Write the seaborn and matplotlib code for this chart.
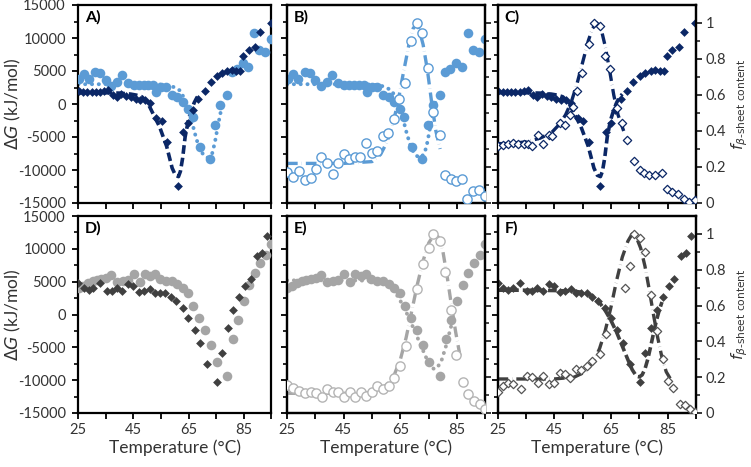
import matplotlib
matplotlib.use("Agg")
import matplotlib.pyplot as plt
import seaborn as sns
from matplotlib.ticker import FixedLocator

# ---------------- data ----------------
# navy diamonds: Delta G (panels A and C)
temp_navy = [25.3, 26.8, 28.3, 29.8, 31.3, 32.8, 34.3, 35.8, 37.5, 39.0, 40.6, 42.3, 44.0, 45.8, 47.5, 49.2, 51.0,
             53.3, 55.3, 57.1, 61.1, 63.1, 64.9, 66.6, 68.4, 70.8, 72.9, 75.3, 77.1, 79.0, 80.7, 82.2, 83.6, 84.8,
             86.7, 88.9, 90.8, 94.8]
dg_navy = [1900, 1800, 1750, 1800, 1850, 1750, 1900, 2100, 1300, 1000, 1450, 1200, 1000, 800, 650, 600, 100,
           -2100, -2500, -5700, -12400, -4300, -2900, -900, 700, 1900, 3400, 4250, 4750, 5050, 5100, 5050, 5050, 7200,
           8200, 8700, 10950, 12200]

# light-blue circles: Delta G (panels A and B)
temp_lb = [25.3, 27.0, 29.0, 31.2, 33.0, 35.0, 37.0, 39.0, 41.0, 43.1, 45.2, 47.0, 48.7, 50.4, 52.0, 53.3, 55.0,
           56.8, 59.0, 60.8, 62.8, 64.7, 66.4, 69.1, 72.7, 74.7, 76.5, 78.9, 80.8, 82.5, 84.6, 86.6, 88.7, 90.5,
           92.7, 94.8]
dg_lb = [3800, 4500, 3800, 4900, 4650, 3650, 2750, 3400, 4400, 3130, 2900, 2950, 2900, 2850, 2900, 1850, 2550,
         2550, 1350, 1100, 350, -800, -1900, -6450, -8350, -3200, -150, 1300, 4900, 5250, 6150, 5650, 10700, 8200,
         7900, 9800]

# dark-grey diamonds: Delta G (panels D and F)
temp_dk = [25.0, 26.9, 28.7, 30.5, 33.0, 35.3, 37.3, 39.1, 41.0, 43.1, 44.8, 47.0, 48.8, 50.8, 52.7, 54.6, 56.5,
           58.5, 60.3, 63.0, 64.9, 67.2, 69.1, 71.6, 75.1, 77.1, 79.3, 81.2, 83.4, 85.5, 87.4, 89.6, 91.4, 93.3]
dg_dk = [4870, 4100, 3800, 4000, 4800, 3550, 3650, 4000, 3650, 4600, 4300, 3450, 3600, 3900, 3300, 3300, 3300,
         2600, 2100, 960, -560, -2350, -4400, -7550, -10300, -5900, -2000, 700, 2700, 4350, 5400, 8900, 9300, 11900]

# light-grey circles: Delta G (panels D and E)
temp_lg = [25.1, 26.6, 28.4, 30.2, 31.7, 33.3, 35.2, 37.0, 39.2, 41.1, 43.1, 45.2, 47.2, 49.0, 51.0, 52.9, 54.6,
           56.6, 58.8, 60.8, 62.8, 64.7, 66.7, 68.7, 70.8, 72.9, 75.1, 79.0, 81.0, 82.9, 84.9, 86.9, 89.0, 91.0,
           92.9, 94.9]
dg_lg = [4000, 4400, 4750, 5100, 5250, 5350, 5500, 6050, 4900, 5150, 5300, 6150, 5000, 6100, 5800, 6200, 5400,
         5050, 5150, 4600, 4100, 3200, 1300, -550, -2350, -4650, -7200, -9350, -3750, -800, 2100, 4500, 6300, 7800,
         9100, 10800]

# f beta-sheet content (open markers)
temp_fb = [25.1, 27.2, 29.3, 31.3, 33.3, 35.2, 37.0, 39.2, 41.3, 43.1, 45.0, 46.8, 48.9, 50.6, 52.9, 54.9, 56.9,
           58.8, 60.7, 62.7, 64.6, 66.6, 68.7, 70.7, 72.7, 74.6, 76.6, 79.0, 80.7, 82.7, 84.6, 86.6, 88.6, 90.5,
           92.8, 94.8]
f_b = [0.175, 0.145, 0.18, 0.13, 0.14, 0.19, 0.255, 0.22, 0.16, 0.225, 0.27, 0.245, 0.255, 0.255, 0.335, 0.28, 0.29,
       0.37, 0.39, 0.465, 0.58, 0.665, 0.90, 1.0, 0.945, 0.75, 0.505, 0.38, 0.155, 0.135, 0.12, 0.135, 0.025, 0.065,
       0.07, 0.04]

temp_fc = [25.3, 27.1, 28.8, 30.6, 32.4, 34.2, 35.9, 37.1, 39.4, 41.2, 43.0, 44.2, 47.1, 48.9, 50.7, 51.8, 53.2,
           54.8, 57.1, 58.9, 61.0, 63.0, 64.8, 67.1, 68.9, 70.6, 73.0, 75.1, 76.7, 78.6, 80.6, 82.9, 84.7, 86.5,
           88.8, 90.8, 92.7, 94.7]
f_c = [0.315, 0.32, 0.33, 0.335, 0.325, 0.325, 0.325, 0.315, 0.38, 0.33, 0.375, 0.37, 0.445, 0.435, 0.49, 0.535,
       0.62, 0.72, 0.885, 1.0, 0.985, 0.815, 0.745, 0.525, 0.445, 0.35, 0.235, 0.185, 0.165, 0.155, 0.155, 0.165,
       0.08, 0.06, 0.05, 0.025, 0.005, 0.015]

temp_fe = [25.1, 27.2, 29.3, 31.3, 33.3, 35.2, 37.2, 39.2, 41.1, 43.1, 45.2, 47.2, 49.0, 51.0, 52.9, 54.9, 56.9,
           58.8, 60.8, 62.8, 64.9, 67.0, 70.8, 72.9, 74.9, 76.6, 78.8, 80.8, 82.8, 84.6, 87.0, 89.0, 91.0, 92.9, 94.9]
f_e = [0.155, 0.14, 0.125, 0.11, 0.115, 0.11, 0.09, 0.135, 0.115, 0.12, 0.09, 0.115, 0.09, 0.115, 0.095, 0.12,
       0.15, 0.135, 0.15, 0.195, 0.26, 0.375, 0.69, 0.83, 0.92, 1.0, 0.96, 0.785, 0.575, 0.325, 0.175, 0.105, 0.065,
       0.05, 0.02]

temp_ff = [25.3, 27.1, 28.8, 30.6, 33.2, 35.3, 37.2, 39.2, 41.0, 43.1, 44.8, 46.9, 48.7, 50.7, 52.8, 54.6, 56.6,
           58.4, 61.0, 63.4, 69.9, 71.6, 73.2, 75.1, 77.1, 79.2, 81.2, 83.2, 85.0, 86.9, 89.2, 91.0, 92.8, 94.8]
f_f = [0.12, 0.15, 0.17, 0.16, 0.135, 0.205, 0.20, 0.17, 0.205, 0.16, 0.17, 0.225, 0.215, 0.195, 0.245, 0.24, 0.26,
       0.29, 0.33, 0.44, 0.70, 0.82, 1.0, 0.975, 0.90, 0.66, 0.46, 0.30, 0.18, 0.14, 0.05, 0.045, 0.025, 0.005]

# fitted curves
fit_navy_t = [25, 30, 35, 40, 44, 46, 48, 50, 52, 54.4, 57, 59, 60.2, 61.3, 62, 62.8, 63.7, 64.9, 66, 67, 68, 69]
fit_navy_dg = [1700, 1700, 1700, 1650, 1500, 1350, 1100, 300, -1400, -3400, -6400, -9700, -10800, -11000, -10200,
               -8200, -5000, -2400, -900, 200, 1000, 1500]
fit_lb_t = [25, 35, 45, 55, 58, 60, 62, 64, 65.4, 67.2, 68.8, 70.5, 72, 73.5, 74.5, 75.5, 76.5, 77.5]
fit_lb_dg = [3000, 3000, 3000, 2950, 2800, 2500, 2000, 300, -1400, -4400, -6700, -7800, -8150, -7500, -5800,
             -3500, -1400, 500]
fit_b_t = [25, 35, 45, 55, 58, 60, 62, 64, 66, 68, 69.5, 70.5, 71.5, 73, 74.5, 76, 77.5, 79]
fit_b_f = [0.22, 0.22, 0.22, 0.23, 0.27, 0.33, 0.42, 0.55, 0.72, 0.88, 0.97, 0.99, 0.97, 0.88, 0.74, 0.56, 0.40, 0.30]
fit_c_t = [25, 30, 35, 40, 44, 47, 49, 51, 53, 55, 57, 58.5, 60, 61.5, 63, 64.5, 66, 67.5, 69.5]
fit_c_f = [0.33, 0.33, 0.34, 0.36, 0.39, 0.44, 0.49, 0.56, 0.66, 0.78, 0.90, 0.97, 1.0, 0.97, 0.87, 0.74, 0.60, 0.49,
           0.40]
fit_e_t = [25, 35, 45, 55, 58, 60, 62, 64, 66, 68, 70, 72, 74, 75.5, 76.8, 78, 79.5, 81, 82.5, 84]
fit_e_dg = [5200, 5200, 5200, 5150, 4950, 4600, 3900, 2800, 1300, -500, -2500, -4500, -6500, -7700, -8300, -8100,
            -7000, -4900, -2400, 0]
fit_e_ft = [25, 35, 45, 55, 58, 61, 63, 65, 67, 69, 71, 73, 75, 77, 78.5, 80, 81.5, 83, 84.5, 86]
fit_e_f = [0.11, 0.11, 0.11, 0.115, 0.13, 0.17, 0.22, 0.30, 0.42, 0.57, 0.72, 0.85, 0.95, 1.0, 0.98, 0.90, 0.76, 0.60,
           0.45, 0.32]
fit_f_t = [25, 35, 45, 52, 56, 59, 61, 63, 65, 67, 69, 71, 72.5, 74, 75, 76, 77, 78, 79, 80, 81, 82, 83]
fit_f_dg = [3700, 3700, 3650, 3550, 3300, 2700, 1800, 600, -900, -2700, -4800, -6900, -8400, -9400, -9500, -9200,
            -8300, -6800, -4900, -2900, -1000, 600, 1900]
fit_f_ft = [25, 35, 45, 52, 56, 59, 61, 63, 65, 67, 69, 71, 72.5, 74, 75.5, 77, 78.5, 80, 81.5, 83, 84.5, 86]
fit_f_f = [0.19, 0.19, 0.19, 0.20, 0.23, 0.29, 0.36, 0.46, 0.59, 0.74, 0.87, 0.96, 1.0, 0.98, 0.92, 0.82, 0.69, 0.55,
           0.42, 0.31, 0.23, 0.19]

x_ticks = [25, 35, 45, 55, 65, 75, 85, 95]
x_ticklabels = ["25", "", "45", "", "65", "", "85", ""]
dg_ticks = [-15000, -10000, -5000, 0, 5000, 10000, 15000]
f_ticks = [0, 0.2, 0.4, 0.6, 0.8, 1.0]
f_ticklabels = ["0", "0.2", "0.4", "0.6", "0.8", "1"]
panel_labels = ["A)", "B)", "C)", "D)", "E)", "F)"]

# ---------------- style ----------------
sns.set_style("ticks")
plt.rcParams["font.family"] = ["Lato", "DejaVu Sans"]
plt.rcParams["mathtext.fontset"] = "dejavusans"

NAVY = "#0b2766"
LBLUE = "#5b9bd5"
DGRAY = "#404040"
LGRAY = "#a5a5a5"
LGRAY_OPEN = "#b4b4b4"
TXT = "#333333"

DASHED = (0, (2.4, 1.1))
DOTTED = (0, (0.05, 1.7))
DASHDOT = (0, (3.2, 1.2, 0.05, 1.2))

W, H = 751, 467
cols = [(78.3, 271.5), (287.0, 485.5), (497.5, 696.0)]
rows = [(5.0, 203.0), (216.0, 413.0)]

fig = plt.figure(figsize=(W / 100, H / 100), dpi=100)


def line(ax, x, y, color, ls, lw=2.6, cap="butt"):
    sns.lineplot(x=x, y=y, ax=ax, color=color, linestyle=ls, linewidth=lw, sort=False,
                 estimator=None, dash_capstyle=cap, zorder=2)


def points(ax, x, y, color, marker, s, filled=True, lw=1.0):
    if filled:
        sns.scatterplot(x=x, y=y, ax=ax, color=color, marker=marker, s=s, linewidth=0, zorder=3)
    else:
        sns.scatterplot(x=x, y=y, ax=ax, marker=marker, s=s, facecolor="white", edgecolor=color,
                        linewidth=lw, zorder=3)


def style_spines(a):
    for sp in a.spines.values():
        sp.set_visible(True)
        sp.set_linewidth(1.6)
        sp.set_color("black")


axes = {}
for r, (top, bot) in enumerate(rows):
    for c, (left, right) in enumerate(cols):
        ax = fig.add_axes([left / W, (H - bot) / H, (right - left) / W, (bot - top) / H])
        axes[(r, c)] = ax


def setup_primary(ax, r, c):
    ax.set_xlim(25, 95)
    ax.set_ylim(-15000, 15000)
    ax.xaxis.set_major_locator(FixedLocator(x_ticks))
    ax.set_xticklabels(x_ticklabels if r == 1 else [""] * len(x_ticks))
    ax.yaxis.set_major_locator(FixedLocator(dg_ticks))
    ax.yaxis.set_minor_locator(FixedLocator([-12500, -7500, -2500, 2500, 7500, 12500]))
    ax.set_yticklabels([str(v) for v in dg_ticks] if c == 0 else [""] * len(dg_ticks))
    ax.tick_params(axis="both", which="major", direction="out", length=4, width=1.3,
                   labelsize=10.5, labelcolor=TXT, color="black")
    ax.tick_params(axis="y", which="major", pad=5)
    ax.tick_params(axis="x", which="major", pad=3)
    ax.tick_params(axis="y", which="minor", direction="out", length=3, width=1.2, color="black")
    ax.set_xlabel("")
    ax.set_ylabel("")
    style_spines(ax)


def setup_twin(tw, c):
    tw.set_ylim(0, 1.1)
    tw.yaxis.set_major_locator(FixedLocator(f_ticks))
    tw.yaxis.set_minor_locator(FixedLocator([0.1, 0.3, 0.5, 0.7, 0.9]))
    tw.set_yticklabels(f_ticklabels if c == 2 else [""] * len(f_ticks))
    tw.tick_params(axis="y", which="major", direction="out", length=4, width=1.3, labelsize=10.5,
                   labelcolor=TXT, pad=3)
    tw.tick_params(axis="y", which="minor", direction="out", length=3, width=1.2)
    tw.set_xlabel("")
    tw.set_ylabel("")
    style_spines(tw)


# A
ax = axes[(0, 0)]
line(ax, fit_navy_t, fit_navy_dg, NAVY, DASHED)
line(ax, fit_lb_t, fit_lb_dg, LBLUE, DOTTED, lw=2.8, cap="round")
points(ax, temp_lb, dg_lb, LBLUE, "o", 48)
points(ax, temp_navy, dg_navy, NAVY, "D", 20)

# B
ax = axes[(0, 1)]
line(ax, fit_lb_t, fit_lb_dg, LBLUE, DOTTED, lw=2.8, cap="round")
points(ax, temp_lb, dg_lb, LBLUE, "o", 48)
twB = ax.twinx()
line(twB, fit_b_t, fit_b_f, LBLUE, DASHDOT, lw=2.4)
points(twB, temp_fb, f_b, LBLUE, "o", 44, filled=False)

# C
ax = axes[(0, 2)]
line(ax, fit_navy_t, fit_navy_dg, NAVY, DASHED)
points(ax, temp_navy, dg_navy, NAVY, "D", 20)
twC = ax.twinx()
line(twC, fit_c_t, fit_c_f, NAVY, DASHDOT, lw=2.4)
points(twC, temp_fc, f_c, NAVY, "D", 18, filled=False, lw=0.9)

# D
ax = axes[(1, 0)]
points(ax, temp_lg, dg_lg, LGRAY, "o", 48)
points(ax, temp_dk, dg_dk, DGRAY, "D", 20)

# E
ax = axes[(1, 1)]
line(ax, fit_e_t, fit_e_dg, LGRAY, DOTTED, lw=2.8, cap="round")
points(ax, temp_lg, dg_lg, LGRAY, "o", 48)
twE = ax.twinx()
line(twE, fit_e_ft, fit_e_f, LGRAY, DASHDOT, lw=2.4)
points(twE, temp_fe, f_e, LGRAY_OPEN, "o", 44, filled=False)

# F
ax = axes[(1, 2)]
line(ax, fit_f_t, fit_f_dg, DGRAY, DASHED)
points(ax, temp_dk, dg_dk, DGRAY, "D", 20)
twF = ax.twinx()
line(twF, fit_f_ft, fit_f_f, DGRAY, DASHDOT, lw=2.4)
points(twF, temp_ff, f_f, "#555555", "D", 18, filled=False, lw=0.9)

for (r, c), ax in axes.items():
    setup_primary(ax, r, c)
    ax.text(0.035, 0.975, panel_labels[r * 3 + c], transform=ax.transAxes, fontsize=11.5,
            fontweight="bold", ha="left", va="top", color="black", zorder=10)

for tw, c in [(twB, 1), (twC, 2), (twE, 1), (twF, 2)]:
    setup_twin(tw, c)
    tw.set_xlim(25, 95)

for r in (0, 1):
    ax = axes[(r, 0)]
    ax.set_ylabel(r"$\mathit{\Delta G}$ (kJ/mol)", fontsize=12.5, color=TXT)
    ax.yaxis.set_label_coords(-0.285, 0.5)
for c in (0, 1, 2):
    ax = axes[(1, c)]
    ax.set_xlabel("Temperature (°C)", fontsize=12.5, color=TXT)
    ax.xaxis.set_label_coords(0.5, -0.135)
    ax.xaxis.label.set_va("top")
for tw in (twC, twF):
    tw.set_ylabel(r"$f_{\beta\text{-sheet content}}$", fontsize=11, color=TXT)
    tw.yaxis.set_label_coords(1.168, 0.5)

fig.savefig("out.png", dpi=100)
